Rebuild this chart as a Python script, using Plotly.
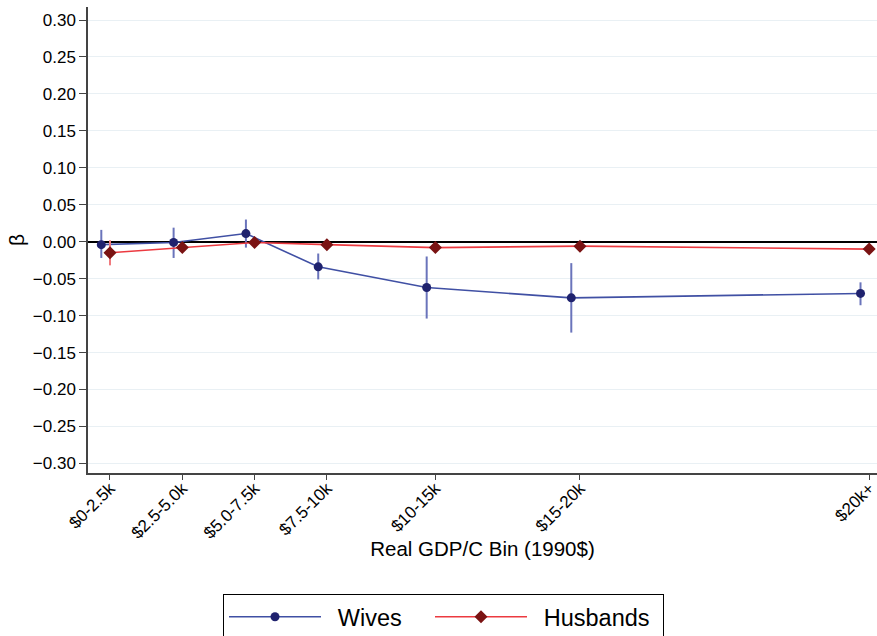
import plotly.graph_objects as go

# GDP per capita bins (thousands of 1990 dollars): bin midpoints and labels
bin_mid = [1.25, 3.75, 6.25, 8.75, 12.5, 17.5, 27.5]
bin_labels = ["$0-2.5k", "$2.5-5.0k", "$5.0-7.5k", "$7.5-10k", "$10-15k", "$15-20k", "$20k+"]

# Estimated coefficients with confidence bounds
wives_beta = [-0.004, -0.001, 0.011, -0.034, -0.062, -0.076, -0.070]
wives_hi = [0.016, 0.019, 0.030, -0.016, -0.020, -0.029, -0.055]
wives_lo = [-0.022, -0.022, -0.008, -0.051, -0.104, -0.123, -0.086]

husb_beta = [-0.015, -0.008, -0.001, -0.004, -0.008, -0.006, -0.010]
husb_hi = [0.002, -0.005, 0.002, -0.002, -0.006, -0.004, -0.008]
husb_lo = [-0.032, -0.011, -0.004, -0.006, -0.010, -0.008, -0.012]

y_ticks = [round(-0.30 + 0.05 * i, 2) for i in range(13)]

WIVES_SHIFT = -0.3  # small horizontal dodge so the two series don't overlap

FONT = "Liberation Sans, Arial, Helvetica, sans-serif"
GAP = "\u2002"  # spacing between legend symbol and its label


def tick_text(v):
    s = f"{abs(v):.2f}"
    return ("\u2212" + s) if v < -1e-9 else s


fig = go.Figure()

fig.add_trace(go.Scatter(
    x=[m + WIVES_SHIFT for m in bin_mid],
    y=wives_beta,
    mode="lines+markers",
    name=GAP + "Wives",
    legendwidth=99,
    line=dict(color="#4050a4", width=1.6),
    marker=dict(symbol="circle", size=9, color="#1f226e"),
    error_y=dict(
        type="data", symmetric=False,
        array=[h - b for h, b in zip(wives_hi, wives_beta)],
        arrayminus=[b - l for b, l in zip(wives_beta, wives_lo)],
        color="#6a74bb", thickness=2, width=0,
    ),
))

fig.add_trace(go.Scatter(
    x=bin_mid,
    y=husb_beta,
    mode="lines+markers",
    name=GAP + "Husbands",
    legendwidth=126,
    line=dict(color="#ec3a40", width=1.6),
    marker=dict(symbol="diamond", size=10, color="#7a1313"),
    error_y=dict(
        type="data", symmetric=False,
        array=[h - b for h, b in zip(husb_hi, husb_beta)],
        arrayminus=[b - l for b, l in zip(husb_beta, husb_lo)],
        color="#f07a7e", thickness=2, width=0,
    ),
))

fig.update_layout(
    width=877, height=636,
    margin=dict(l=88, r=0, t=7, b=163, autoexpand=False),
    plot_bgcolor="white", paper_bgcolor="white",
    font=dict(family=FONT, color="black"),
    showlegend=True,
    legend=dict(
        orientation="h",
        x=(223 - 88) / 789, xanchor="left",
        y=-(594 - 473) / 466, yanchor="top",
        font=dict(size=23.5, family=FONT),
        bordercolor="black", borderwidth=1,
        itemwidth=92,
        tracegroupgap=0,
    ),
    xaxis=dict(
        range=[0.49, 27.77],
        tickmode="array", tickvals=bin_mid, ticktext=bin_labels,
        tickangle=-45,
        tickfont=dict(size=17, family=FONT),
        ticklabeloverflow="allow",
        ticklabelstandoff=-8,
        ticks="outside", ticklen=5, tickcolor="#444", tickwidth=1.2,
        showline=True, linecolor="#444", linewidth=1.5,
        showgrid=False, zeroline=False,
        title=dict(text="Real GDP/C Bin (1990$)", font=dict(size=20.5, family=FONT), standoff=0),
    ),
    yaxis=dict(
        range=[-0.313, 0.3176],
        tickmode="array", tickvals=y_ticks, ticktext=[tick_text(v) for v in y_ticks],
        tickfont=dict(size=17, family=FONT),
        ticks="outside", ticklen=7, tickcolor="#444", tickwidth=1.2,
        showline=True, linecolor="#444", linewidth=1.5,
        showgrid=True, gridcolor="#e9f0f4", gridwidth=1,
        zeroline=True, zerolinecolor="black", zerolinewidth=1.8,
        title=dict(text="\u03b2", font=dict(size=21, family=FONT), standoff=2),
    ),
)

fig.write_html("out.html")
